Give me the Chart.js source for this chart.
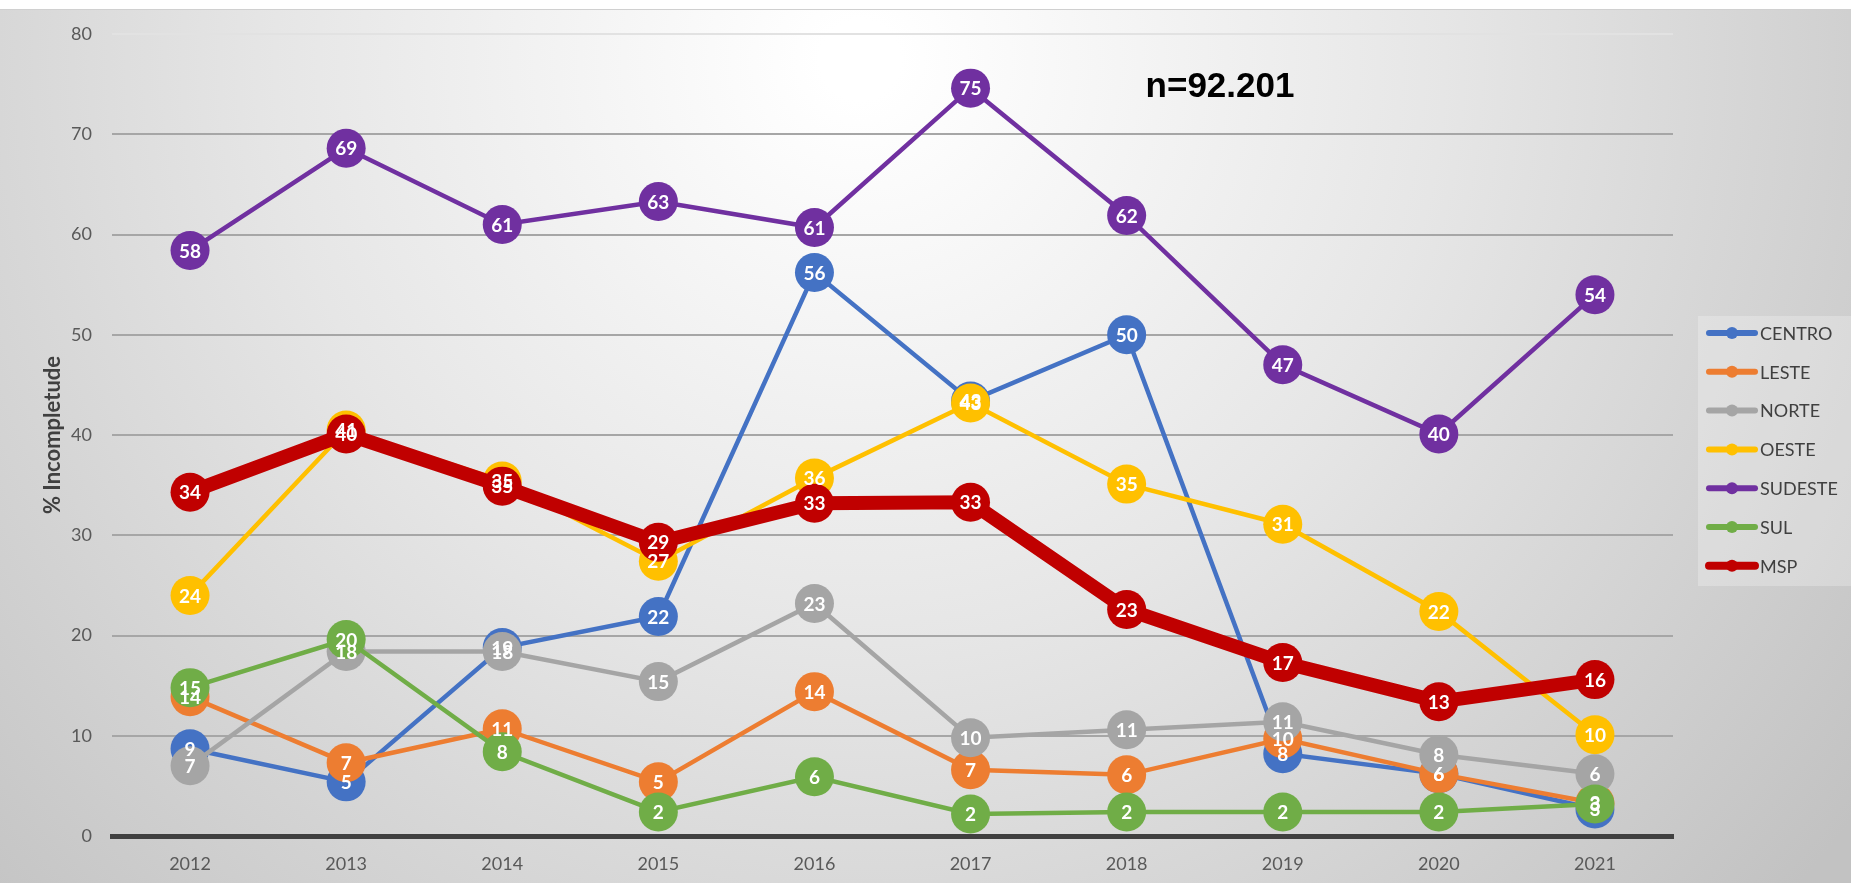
<!DOCTYPE html>
<html>
<head>
<meta charset="utf-8">
<script src="https://cdn.jsdelivr.net/npm/chart.js@4"></script>
<style>
  html, body { margin: 0; padding: 0; background: #fff; }
  #wrap { width: 1851px; height: 883px; }
</style>
</head>
<body>
<div id="wrap"><canvas id="incompletude_chart" width="1851" height="883"></canvas></div>
<script>
// Years on the x axis
const years = ["2012", "2013", "2014", "2015", "2016", "2017", "2018", "2019", "2020", "2021"];

// % incompletude per region
const centro  = [8.7, 5.4, 18.8, 21.9, 56.2, 43.4, 50.0, 8.2, 6.2, 2.7];
const leste   = [13.9, 7.3, 10.7, 5.4, 14.4, 6.6, 6.1, 9.7, 6.2, 3.3];
const norte   = [7.0, 18.4, 18.4, 15.4, 23.2, 9.8, 10.6, 11.4, 8.1, 6.2];
const oeste   = [24.0, 40.5, 35.4, 27.4, 35.7, 43.2, 35.1, 31.1, 22.4, 10.1];
const sudeste = [58.4, 68.6, 61.0, 63.3, 60.7, 74.6, 61.9, 47.0, 40.1, 54.0];
const sul     = [14.8, 19.6, 8.4, 2.4, 5.9, 2.2, 2.4, 2.4, 2.4, 3.2];
const msp     = [34.3, 40.1, 34.9, 29.3, 33.2, 33.3, 22.6, 17.3, 13.4, 15.6];

const seriesNames = ["CENTRO", "LESTE", "NORTE", "OESTE", "SUDESTE", "SUL", "MSP"];
const seriesData = [centro, leste, norte, oeste, sudeste, sul, msp];
const seriesColors = ["#4472C4", "#ED7D31", "#A5A5A5", "#FFC000", "#7030A0", "#70AD47", "#C00000"];

const yTicks = { min: 0, max: 80, step: 10 };
const sampleText = "n=92.201";

document.addEventListener("DOMContentLoaded", () => {
    createIncompletudeChart();
});

// background: white top strip and a soft radial gray gradient
const backgroundPlugin = {
    id: "background",
    beforeDraw(chart) {
        const ctx = chart.ctx;
        ctx.save();
        ctx.fillStyle = "#ffffff";
        ctx.fillRect(0, 0, chart.width, chart.height);
        const g = ctx.createRadialGradient(860, 60, 40, 860, 60, 1250);
        g.addColorStop(0, "#ffffff");
        g.addColorStop(0.45, "#e6e6e6");
        g.addColorStop(1, "#c2c2c2");
        ctx.fillStyle = g;
        ctx.fillRect(0, 9, chart.width, chart.height - 9);
        ctx.fillStyle = "#d0d0d0";
        ctx.fillRect(0, 9, chart.width, 1);
        // legend panel
        ctx.fillStyle = "rgba(255,255,255,0.25)";
        ctx.fillRect(1698, 316, chart.width - 1698, 270);
        ctx.restore();
    }
};

// white value labels inside the markers
const valueLabelPlugin = {
    id: "valueLabels",
    afterDatasetsDraw(chart) {
        const ctx = chart.ctx;
        ctx.save();
        ctx.font = "bold 19px Lato";
        ctx.fillStyle = "#ffffff";
        ctx.textAlign = "center";
        ctx.textBaseline = "middle";
        chart.data.datasets.forEach((ds, i) => {
            const meta = chart.getDatasetMeta(i);
            meta.data.forEach((pt, j) => {
                ctx.fillText(String(Math.round(ds.data[j])), pt.x, pt.y + 1);
            });
        });
        ctx.restore();
    }
};

// legend on the right and the sample size note
const sideLegendPlugin = {
    id: "sideLegend",
    afterDraw(chart) {
        const ctx = chart.ctx;
        ctx.save();
        chart.data.datasets.forEach((ds, i) => {
            const y = 333 + i * 38.8;
            ctx.strokeStyle = ds.borderColor;
            ctx.lineWidth = i === 6 ? 8 : 6;
            ctx.lineCap = "round";
            ctx.beginPath();
            ctx.moveTo(1709, y);
            ctx.lineTo(1755, y);
            ctx.stroke();
            ctx.fillStyle = ds.borderColor;
            ctx.beginPath();
            ctx.arc(1732, y, 6, 0, Math.PI * 2);
            ctx.fill();
            ctx.fillStyle = "#404040";
            ctx.font = "18px Lato";
            ctx.textAlign = "left";
            ctx.textBaseline = "middle";
            ctx.fillText(ds.label, 1760, y + 1);
        });
        ctx.fillStyle = "#000000";
        ctx.font = "bold 35px 'Liberation Sans'";
        ctx.textAlign = "center";
        ctx.textBaseline = "alphabetic";
        ctx.fillText(sampleText, 1220, 97);
        ctx.restore();
    }
};

function createIncompletudeChart()
{
    const chart = document.getElementById("incompletude_chart");

    const datasets = seriesNames.map((name, i) => ({
        label: name,
        data: seriesData[i],
        borderColor: seriesColors[i],
        backgroundColor: seriesColors[i],
        borderWidth: name === "MSP" ? 14 : 4.5,
        pointRadius: 19.5,
        pointHoverRadius: 19.5,
        pointBorderWidth: 0,
        tension: 0,
        order: seriesNames.length - i
    }));

    new Chart(chart, {
        type: "line",
        data: { labels: years, datasets: datasets },
        plugins: [backgroundPlugin, valueLabelPlugin, sideLegendPlugin],
        options: {
            responsive: false,
            animation: false,
            events: [],
            layout: { padding: { top: 34, right: 178, bottom: 0, left: 0 } },
            plugins: {
                legend: { display: false },
                tooltip: { enabled: false }
            },
            scales: {
                x: {
                    offset: true,
                    grid: { display: false },
                    border: { display: true, color: "#404040", width: 5 },
                    ticks: { color: "#595959", font: { family: "Lato", size: 18 }, padding: 9 },
                    afterFit: (s) => { s.height = 47; }
                },
                y: {
                    min: yTicks.min,
                    max: yTicks.max,
                    ticks: {
                        stepSize: yTicks.step,
                        color: "#595959",
                        font: { family: "Lato", size: 18 },
                        padding: 20
                    },
                    grid: {
                        drawTicks: false,
                        lineWidth: 2,
                        color: (c) => c.tick.value === 0 ? "rgba(0,0,0,0)" : (c.tick.value === 80 ? "#e2e2e2" : "#a6a6a6")
                    },
                    border: { display: false },
                    title: {
                        display: true,
                        text: "% Incompletude",
                        color: "#404040",
                        font: { family: "Lato", size: 22, weight: "bold" },
                        padding: { top: 40, bottom: 0 }
                    },
                    afterFit: (s) => { s.width = 112; }
                }
            }
        }
    });
}
</script>
</body>
</html>
